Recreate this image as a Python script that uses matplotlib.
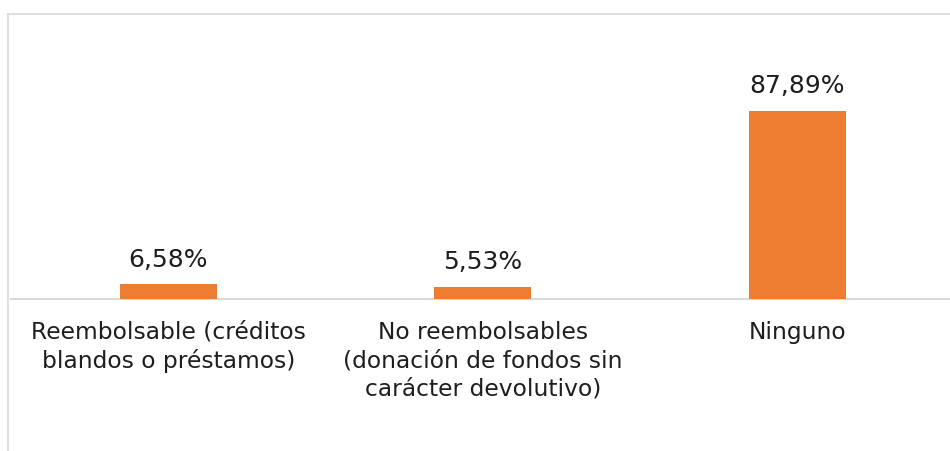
import matplotlib
matplotlib.use("Agg")
import matplotlib.pyplot as plt
from matplotlib.lines import Line2D

categories = [
    "Reembolsable (créditos\nblandos o préstamos)",
    "No reembolsables\n(donación de fondos sin\ncarácter devolutivo)",
    "Ninguno",
]
values = [6.58, 5.53, 87.89]

BAR_COLOR = "#ED7D31"
TEXT_COLOR = "#1E1E1E"
LINE_COLOR = "#D9D9D9"

W, H = 950, 451
fig = plt.figure(figsize=(W / 100, H / 100), dpi=100)
fig.patch.set_facecolor("white")

base_px = 298.5
top_px = 85.0
left_px = 11.0
right_px = 954.5
ax = fig.add_axes([left_px / W, (H - base_px) / H, (right_px - left_px) / W, (base_px - top_px) / H])
ax.set_facecolor("none")

x = list(range(len(categories)))
ax.bar(x, values, width=0.31, color=BAR_COLOR, zorder=3)
ax.set_xlim(-0.5, len(categories) - 0.5)
ax.set_ylim(0, 100)

for s in ["top", "right", "left"]:
    ax.spines[s].set_visible(False)
ax.spines["bottom"].set_color(LINE_COLOR)
ax.spines["bottom"].set_linewidth(1.5)
ax.set_yticks([])
ax.set_xticks(x)
ax.set_xticklabels(categories, fontsize=16.8, color=TEXT_COLOR, linespacing=1.3)
ax.tick_params(axis="x", length=0, pad=16)

for xi, v in zip(x, values):
    ax.annotate(f"{v:.2f}%".replace(".", ","), (xi, v), xytext=(0, 9),
                textcoords="offset points", ha="center", va="bottom",
                fontsize=18, color=TEXT_COLOR)

# chart frame border (top and left, as cropped in reference)
fig.add_artist(Line2D([7.5 / W, 1.0], [1 - 13.5 / H, 1 - 13.5 / H], transform=fig.transFigure,
                      color=LINE_COLOR, linewidth=1.2))
fig.add_artist(Line2D([7.5 / W, 7.5 / W], [0, 1 - 13.5 / H], transform=fig.transFigure,
                      color=LINE_COLOR, linewidth=1.2))

fig.savefig("out.png", dpi=100, facecolor="white")
